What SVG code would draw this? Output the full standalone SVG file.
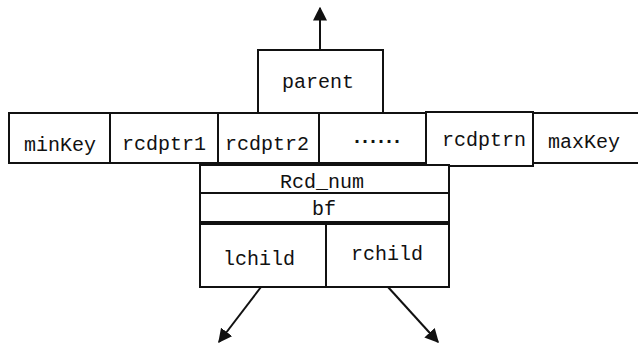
<svg xmlns="http://www.w3.org/2000/svg" width="638" height="344" viewBox="0 0 638 344">
<style>
.box{fill:#fff;stroke:#111;stroke-width:2}
.t{font-family:"Liberation Mono","DejaVu Sans Mono",monospace;font-size:20px;fill:#111;text-anchor:middle}
.c{stroke:#111;stroke-width:2;fill:none}
</style>
<defs>
<marker id="ah" viewBox="0 0 10 10" refX="9" refY="5" markerWidth="7" markerHeight="7" orient="auto" markerUnits="strokeWidth">
<path d="M0,0 L10,5 L0,10 z" fill="#111"/>
</marker>
</defs>
<rect width="638" height="344" fill="#fff"/>
<g id="parent"><rect class="box" x="258" y="50" width="125" height="63"/><text class="t" x="318" y="88">parent</text></g>
<g id="minKey"><rect class="box" x="9" y="113" width="101" height="50"/><text class="t" x="60" y="151">minKey</text></g>
<g id="rcdptr1"><rect class="box" x="110" y="113" width="108" height="50"/><text class="t" x="164" y="150">rcdptr1</text></g>
<g id="rcdptr2"><rect class="box" x="218" y="113" width="101" height="50"/><text class="t" x="267" y="150">rcdptr2</text></g>
<g id="dots"><rect class="box" x="319" y="113" width="107" height="50"/><text class="t" x="375" y="143" style="letter-spacing:-4px;font-weight:bold">......</text></g>
<g id="rcdptrn"><rect class="box" x="426" y="112" width="107" height="54"/><text class="t" x="484" y="146">rcdptrn</text></g>
<g id="maxKey"><rect class="box" x="533" y="113" width="107" height="50"/><text class="t" x="584" y="148">maxKey</text></g>
<g id="rcdnum"><rect class="box" x="200" y="165" width="249" height="28"/><text class="t" x="322" y="188">Rcd_num</text></g>
<g id="bf"><rect class="box" x="200" y="193" width="249" height="29"/><text class="t" x="324" y="215">bf</text></g>
<g id="lchild"><rect class="box" x="200" y="224" width="126" height="63"/><text class="t" x="259" y="265">lchild</text></g>
<g id="rchild"><rect class="box" x="326" y="224" width="123" height="63"/><text class="t" x="387" y="260">rchild</text></g>
<g id="connectors">
<line class="c" x1="320" y1="50" x2="320" y2="8" marker-end="url(#ah)"/>
<line class="c" x1="261" y1="287" x2="219" y2="342" marker-end="url(#ah)"/>
<line class="c" x1="388" y1="287" x2="438" y2="342" marker-end="url(#ah)"/>
</g>
</svg>
